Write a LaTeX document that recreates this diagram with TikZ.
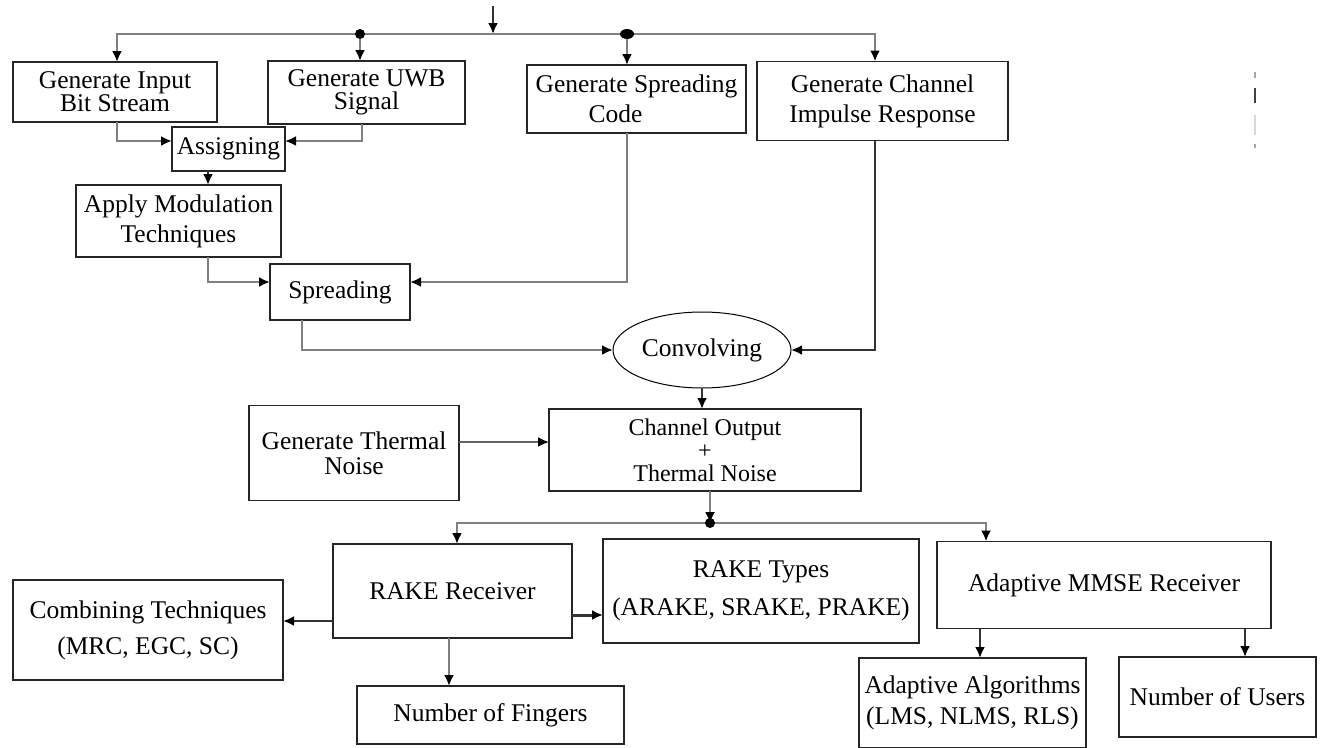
\documentclass[tikz,border=0pt]{standalone}
\usepackage{fontspec}
\setmainfont{Liberation Serif}
\usetikzlibrary{arrows.meta,shapes.geometric}
\newcommand{\fsz}[1]{\fontsize{25.5pt}{#1pt}\selectfont}
\begin{document}
\begin{tikzpicture}[x=1pt,y=-1pt,
  tip/.style={-{Latex[length=11pt,width=10pt,color=black,fill=black]}},
  tips/.style={{Latex[length=11pt,width=10pt,color=black,fill=black]}-{Latex[length=11pt,width=10pt,color=black,fill=black]}},
  gl/.style={draw=black!50,line width=2.8pt},
  dl/.style={draw=black!80,line width=2.2pt},
  box/.style={draw=black!85,line width=1.5pt,rectangle,inner sep=0pt,outer sep=0pt,align=center},
]
\useasboundingbox (0,0) rectangle (1324,747);
\clip (0,0) rectangle (1324,747);

% nodes
\node[box,minimum width=204pt,minimum height=60pt,font=\fsz{23}] (b1) at (115,92) {Generate Input\\Bit Stream};
\node[box,minimum width=197pt,minimum height=63pt,font=\fsz{23}] (b2) at (366.5,92.5) {Generate UWB\\Signal};
\node[box,minimum width=219pt,minimum height=68pt,font=\fsz{30}] (b3) at (636.5,99) {Generate Spreading\\Code\hspace*{42pt}};
\node[box,minimum width=251pt,minimum height=79pt,font=\fsz{30}] (b4) at (882.5,101) {Generate Channel\\Impulse Response};
\node[box,minimum width=113pt,minimum height=44pt,font=\fsz{26}] (asg) at (228.5,149) {Assigning};
\node[box,minimum width=205pt,minimum height=72pt,font=\fsz{30}] (mod) at (178.5,221) {Apply Modulation\\Techniques};
\node[box,minimum width=140pt,minimum height=56pt,font=\fsz{26}] (spr) at (340,292) {Spreading};
\node[draw=black,line width=1pt,ellipse,inner sep=0pt,outer sep=0pt,minimum width=178pt,minimum height=76pt,font=\fsz{26}] (conv) at (702,350) {Convolving};
\node[box,minimum width=210pt,minimum height=95pt,font=\fsz{25}] (tn) at (354,453) {Generate Thermal\\Noise};
\node[box,minimum width=312pt,minimum height=82pt,font={\fontsize{24pt}{23pt}\selectfont}] (co) at (705,450) {Channel Output\\+\\Thermal Noise};
\node[box,minimum width=239pt,minimum height=94pt,font=\fsz{26}] (rake) at (452.5,591) {RAKE Receiver};
\node[box,minimum width=316pt,minimum height=104pt,font=\fsz{38}] (types) at (761,591) {RAKE Types\\(ARAKE, SRAKE, PRAKE)};
\node[box,minimum width=334pt,minimum height=87pt,font=\fsz{26}] (mmse) at (1104,585) {Adaptive MMSE Receiver};
\node[box,minimum width=270pt,minimum height=100pt,font=\fsz{36}] (comb) at (148,630) {Combining Techniques\\(MRC, EGC, SC)};
\node[box,minimum width=267pt,minimum height=58pt,font=\fsz{26}] (fing) at (490.5,715) {Number of Fingers};
\node[box,minimum width=227pt,minimum height=90pt,font=\fsz{31}] (alg) at (972.5,703) {Adaptive Algorithms\\(LMS, NLMS, RLS)};
\node[box,minimum width=197pt,minimum height=80pt,font=\fsz{26}] (users) at (1217.5,697) {Number of Users};

% helper coordinates
\coordinate (in) at (493,6);
\coordinate (j0) at (493,34);
\coordinate (bL) at (117,34);
\coordinate (d1) at (360,34);
\coordinate (d2) at (627,34);
\coordinate (bR) at (875,34);
\coordinate (x117) at (117,0);
\coordinate (x362) at (362,0);
\coordinate (x208) at (208,0);
\coordinate (x302) at (302,0);
\coordinate (y141) at (0,141);
\coordinate (y282) at (0,282);
\coordinate (y442) at (0,442);
\coordinate (dot2) at (710,523);
\coordinate (cL) at (457,523);
\coordinate (cR) at (986,523);
\coordinate (y621) at (0,621);
\coordinate (y615) at (0,615);
\coordinate (x449) at (449,0);
\coordinate (x980) at (980,0);
\coordinate (x1245) at (1245,0);

% connectors
\draw[dl,tip] (in) -- (j0);
\draw[gl,tips] (bL |- b1.north) -- (bL) -- (bR) -- (bR |- b4.north);
\draw[gl,tip] (d1) -- (d1 |- b2.north);
\draw[gl,tip] (d2) -- (d2 |- b3.north);
\fill (d1) circle (5pt);
\fill (d2) ellipse (7pt and 5pt);
\draw[gl,tip] (b1.south -| x117) |- (asg.west |- y141);
\draw[gl,tip] (b2.south -| x362) |- (asg.east |- y141);
\draw[dl,tip] (asg.south -| x208) -- (mod.north -| x208);
\draw[gl,tip] (mod.south -| x208) |- (spr.west |- y282);
\draw[gl,tip] (b3.south -| d2) |- (spr.east |- y282);
\draw[gl,tip] (spr.south -| x302) |- (conv.west);
\draw[dl,tip] (b4.south -| bR) |- (conv.east);
\draw[dl,tip] (conv.south) -- (conv.south |- co.north);
\draw[draw=black!60,line width=1.8pt,tip] (tn.east |- y442) -- (co.west |- y442);
\draw[gl,line width=1.8pt,tip] (co.south -| dot2) -- (dot2);
\draw[gl,tips] (cL |- rake.north) -- (cL) -- (cR) -- (cR |- mmse.north);
\fill (dot2) circle (5pt);
\draw[dl,tip] (rake.west |- y621) -- (comb.east |- y621);
\draw[dl,line width=3pt,tip] (rake.east |- y615) -- (types.west |- y615);
\draw[gl,tip] (rake.south -| x449) -- (fing.north -| x449);
\draw[dl,tip] (mmse.south -| x980) -- (alg.north -| x980);
\draw[dl,tip] (mmse.south -| x1245) -- (users.north -| x1245);

% stray marks at right
\draw[black!35,line width=1.5pt] (1255,72) -- (1255,78);
\draw[black!75,line width=1.5pt] (1255,88) -- (1255,103);
\draw[black!15,line width=1.5pt] (1255,115) -- (1255,135);
\draw[black!35,line width=1.5pt] (1255,144) -- (1255,148);
\end{tikzpicture}
\end{document}
